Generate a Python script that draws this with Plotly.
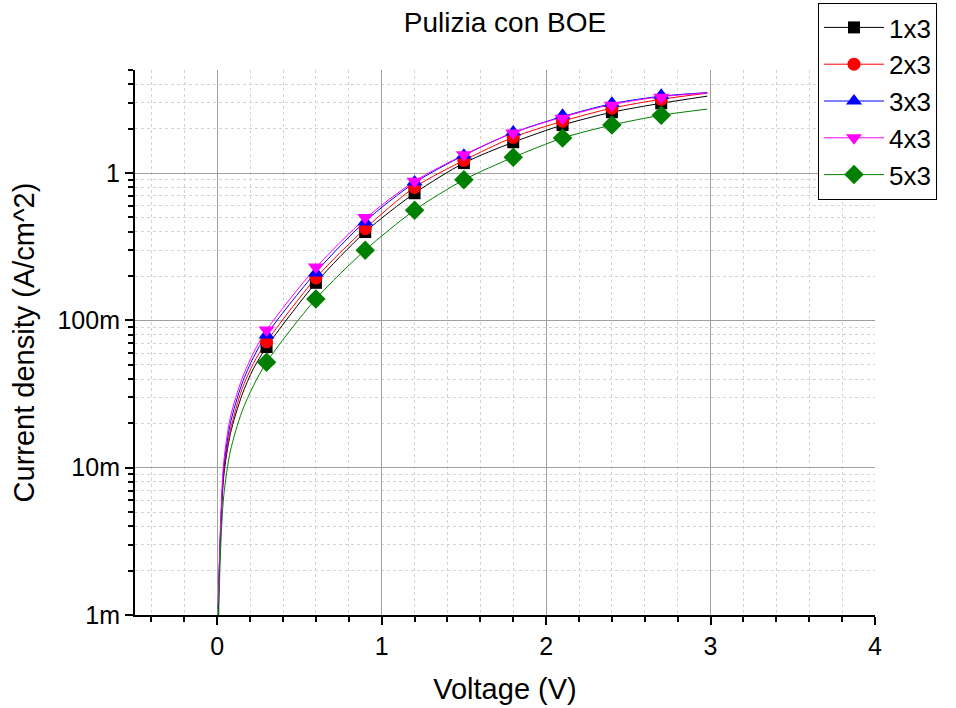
import plotly.graph_objects as go

# ---------------- data ----------------
names = ["1x3", "2x3", "3x3", "4x3", "5x3"]
colors = ["#000000", "#ff0000", "#0000ff", "#ff00ff", "#008000"]
symbols = ["square", "circle", "triangle-up", "triangle-down", "diamond"]
msizes = [12, 13, 14, 14, 15]

# measured points (V, A/cm^2)
meas_v = [0.3, 0.6, 0.9, 1.2, 1.5, 1.8, 2.1, 2.4, 2.7]
meas_j = {
    "1x3": [0.066, 0.180, 0.398, 0.73, 1.17, 1.62, 2.12, 2.59, 2.98],
    "2x3": [0.0715, 0.194, 0.42, 0.80, 1.22, 1.75, 2.25, 2.76, 3.17],
    "3x3": [0.0797, 0.210, 0.466, 0.87, 1.32, 1.90, 2.47, 2.98, 3.38],
    "4x3": [0.086, 0.230, 0.50, 0.88, 1.33, 1.87, 2.36, 2.89, 3.27],
    "5x3": [0.052, 0.140, 0.30, 0.56, 0.90, 1.28, 1.73, 2.12, 2.47],
}

# fitted curves (V, A/cm^2)
curve_v = [0.006, 0.02, 0.04, 0.08, 0.15, 0.22, 0.3, 0.6, 0.9, 1.2, 1.5, 1.8, 2.1, 2.4, 2.7, 2.98]
curve_j = {
    "1x3": [0.0010, 0.0034, 0.0088, 0.017, 0.031, 0.047, 0.066, 0.180, 0.398, 0.73, 1.17, 1.62, 2.12, 2.59, 2.98, 3.33],
    "2x3": [0.0011, 0.0036, 0.0095, 0.018, 0.034, 0.051, 0.0715, 0.194, 0.42, 0.80, 1.22, 1.75, 2.25, 2.76, 3.17, 3.49],
    "3x3": [0.0011, 0.0038, 0.0100, 0.020, 0.037, 0.056, 0.080, 0.212, 0.47, 0.86, 1.32, 1.88, 2.42, 2.96, 3.33, 3.52],
    "4x3": [0.0012, 0.0040, 0.0110, 0.022, 0.040, 0.060, 0.086, 0.228, 0.49, 0.88, 1.33, 1.88, 2.40, 2.92, 3.30, 3.50],
    "5x3": [0.0007, 0.0027, 0.0065, 0.013, 0.024, 0.036, 0.052, 0.140, 0.30, 0.56, 0.90, 1.28, 1.73, 2.12, 2.47, 2.72],
}

x_ticks = [0, 1, 2, 3, 4]
y_ticks = [0.001, 0.01, 0.1, 1]
y_ticktext = ["1m", "10m", "100m", "1"]
y_minor = [m * 10 ** e for e in range(-3, 1) for m in range(2, 10)]

FONT = "Arial, Liberation Sans, sans-serif"

fig = go.Figure()

for name, col, sym, ms in zip(names, colors, symbols, msizes):
    fig.add_trace(go.Scatter(
        x=curve_v, y=curve_j[name], mode="lines",
        line=dict(color=col, width=1, shape="spline", smoothing=0.8),
        showlegend=False, hoverinfo="skip", legendgroup=name,
    ))

for name, col, sym, ms in zip(names, colors, symbols, msizes):
    gx, gy = [], []
    for v, j in zip(meas_v, meas_j[name]):
        gx += [v, None]
        gy += [j, None]
    fig.add_trace(go.Scatter(
        x=gx, y=gy, mode="lines+markers", name=name, connectgaps=False,
        line=dict(color=col, width=1),
        marker=dict(symbol=sym, size=ms, color=col, line=dict(width=0)),
        legendgroup=name,
    ))

fig.update_layout(
    width=956, height=708,
    margin=dict(l=135, r=81, t=70, b=93, autoexpand=False),
    paper_bgcolor="white", plot_bgcolor="white",
    font=dict(family=FONT, color="black"),
    title=dict(text="Pulizia con BOE", x=0.5, xref="paper", xanchor="center",
               y=1 - 22 / 708, yanchor="middle", font=dict(size=28)),
    legend=dict(x=(818 - 135) / 740, y=1 + (70 - 3) / 545, xanchor="left", yanchor="top",
                bordercolor="black", borderwidth=1, bgcolor="white",
                font=dict(size=26), itemwidth=60, tracegroupgap=0),
    showlegend=True,
)

fig.update_xaxes(
    range=[-0.5, 4], tickvals=x_ticks, ticks="outside", ticklen=8, tickwidth=2,
    tickcolor="black", showline=True, linecolor="black", linewidth=2,
    showgrid=True, gridcolor="#a0a0a0", gridwidth=1, zeroline=False,
    tickfont=dict(size=25),
    minor=dict(dtick=0.2, tick0=0, ticks="outside", ticklen=5, tickwidth=2, tickcolor="black",
               showgrid=True, gridcolor="#d4d4d4", griddash="3px,3px", gridwidth=1),
    title=dict(text="Voltage (V)", font=dict(size=29), standoff=20),
)
fig.update_yaxes(
    type="log", range=[-3, 0.7], tickvals=y_ticks, ticktext=y_ticktext,
    ticks="outside", ticklen=8, tickwidth=2, tickcolor="black",
    showline=True, linecolor="black", linewidth=2,
    showgrid=True, gridcolor="#a0a0a0", gridwidth=1, zeroline=False,
    tickfont=dict(size=25),
    minor=dict(tickvals=y_minor, ticks="outside", ticklen=5, tickwidth=2, tickcolor="black",
               showgrid=True, gridcolor="#d4d4d4", griddash="3px,3px", gridwidth=1),
    title=dict(text="Current density (A/cm^2)", font=dict(size=29), standoff=14),
)

fig.write_html("out.html")
